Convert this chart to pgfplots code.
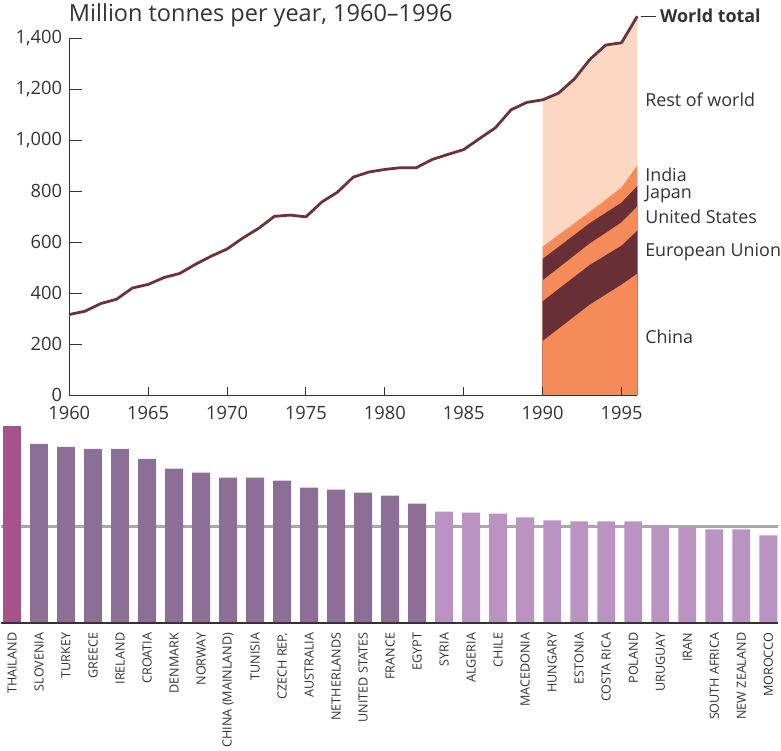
\documentclass[border=0pt]{standalone}
\usepackage{pgfplots}
\pgfplotsset{compat=1.18}
\usepackage{fontspec}
\setmainfont{Open Sans}
\definecolor{txt}{HTML}{333333}
\definecolor{peach}{HTML}{FCD8C3}
\definecolor{orng}{HTML}{F48B58}
\definecolor{dark}{HTML}{683036}
\definecolor{wline}{HTML}{6B3338}
\definecolor{thai}{HTML}{A5538A}
\definecolor{dpurp}{HTML}{8D6E97}
\definecolor{lpurp}{HTML}{BA93C2}
\definecolor{gline}{HTML}{A8A8A8}
\begin{document}
\begin{tikzpicture}
\path (0,0) rectangle (585.75pt,565.5pt);
\node[anchor=base west, inner sep=0pt, text=txt, font=\fontsize{17.7}{20}\selectfont] at (51pt,549pt) {Million tonnes per year, 1960\textendash1996};
% x = years since 1960
\begin{axis}[
  at={(51.4pt,267.75pt)}, anchor=south west,
  scale only axis, width=428.1pt, height=269pt,
  xmin=0, xmax=36, ymin=0, ymax=1400,
  axis lines*=left, axis on top, clip=false,
  axis line style={draw=txt, line width=0.8pt},
  tick style={draw=txt, line width=0.8pt},
  tick align=inside,
  xtick={0,5,10,15,20,25,30,35},
  xticklabels={1960,1965,1970,1975,1980,1985,1990,1995},
  ytick={0,200,400,600,800,1000,1200,1400},
  yticklabels={0,200,400,600,800,{1,000},{1,200},{1,400}},
  major tick length=9.75pt,
  xtick style={draw=none},
  tick label style={text=txt, font=\fontsize{13.8}{15}\selectfont, inner sep=0pt},
  yticklabel style={anchor=east, xshift=-5.2pt},
  xticklabel style={anchor=north, yshift=-8pt},
]
% world total area for 1990-1996
\addplot[draw=none, fill=peach] coordinates {(30,0) (30,1158) (31,1184) (32,1239) (33,1317) (34,1373) (35,1382) (36,1486) (36,0)};
% cumulative tops (painter's order)
\addplot[draw=none, fill=orng] coordinates {(30,0) (30,582) (33,719) (35,814) (36,901) (36,0)}; % India
\addplot[draw=none, fill=dark] coordinates {(30,0) (30,534) (33,675) (35,755) (36,820) (36,0)}; % Japan
\addplot[draw=none, fill=orng] coordinates {(30,0) (30,450) (33,595) (35,677) (36,740) (36,0)}; % United States
\addplot[draw=none, fill=dark] coordinates {(30,0) (30,368) (33,511) (35,586) (36,645) (36,0)}; % European Union
\addplot[draw=none, fill=orng] coordinates {(30,0) (30,212) (33,355) (35,433) (36,476) (36,0)}; % China
% world total line
\addplot[wline, line width=2.1pt, line join=round] coordinates {
(0,316) (1,329) (2,359) (3,376) (4,420) (5,434) (6,461) (7,477)
(8,513) (9,545) (10,573) (11,616) (12,654) (13,701) (14,706) (15,699)
(16,757) (17,796) (18,855) (19,875) (20,885) (21,892) (22,892) (23,924)
(24,944) (25,963) (26,1006) (27,1048) (28,1119) (29,1148) (30,1158)
(31,1184) (32,1239) (33,1317) (34,1373) (35,1382) (36,1486)};
% x tick marks (short, inside)
\draw[txt, line width=0.8pt] (axis cs:0,0) -- ++(0,6pt);
\draw[txt, line width=0.8pt] (axis cs:5,0) -- ++(0,6pt);
\draw[txt, line width=0.8pt] (axis cs:10,0) -- ++(0,6pt);
\draw[txt, line width=0.8pt] (axis cs:15,0) -- ++(0,6pt);
\draw[txt, line width=0.8pt] (axis cs:20,0) -- ++(0,6pt);
\draw[txt, line width=0.8pt] (axis cs:25,0) -- ++(0,6pt);
\draw[txt, line width=0.8pt] (axis cs:30,0) -- ++(0,6pt);
\draw[txt, line width=0.8pt] (axis cs:35,0) -- ++(0,6pt);
\draw[txt, line width=0.8pt] (axis cs:36,1486) ++(2.8pt,0) -- ++(11.2pt,0) node[right, inner sep=0pt, xshift=2.8pt, font=\fontsize{13.5}{15}\selectfont\bfseries, text=txt] {World total};
\node[anchor=west, inner sep=0pt, xshift=5.8pt, text=txt, font=\fontsize{13.5}{15}\selectfont] at (axis cs:36,1158) {Rest of world};
\node[anchor=west, inner sep=0pt, xshift=5.8pt, text=txt, font=\fontsize{13.5}{15}\selectfont] at (axis cs:36,866) {India};
\node[anchor=west, inner sep=0pt, xshift=5.8pt, text=txt, font=\fontsize{13.5}{15}\selectfont] at (axis cs:36,788) {Japan};
\node[anchor=west, inner sep=0pt, xshift=5.8pt, text=txt, font=\fontsize{13.5}{15}\selectfont] at (axis cs:36,698) {United States};
\node[anchor=west, inner sep=0pt, xshift=5.8pt, text=txt, font=\fontsize{13.5}{15}\selectfont] at (axis cs:36,562) {European Union};
\node[anchor=west, inner sep=0pt, xshift=5.8pt, text=txt, font=\fontsize{13.5}{15}\selectfont] at (axis cs:36,230) {China};
\end{axis}
\begin{axis}[
  at={(0pt,96pt)}, anchor=south west,
  scale only axis, width=585.75pt, height=150pt,
  xmin=-0.405, xmax=28.37, ymin=0, ymax=200,
  axis line style={draw=none}, ytick=\empty,
  xtick={0,...,28}, major tick length=0pt,
  xticklabels={THAILAND,SLOVENIA,TURKEY,GREECE,IRELAND,CROATIA,DENMARK,NORWAY,CHINA (MAINLAND),TUNISIA,CZECH REP.,AUSTRALIA,NETHERLANDS,UNITED STATES,FRANCE,EGYPT,SYRIA,ALGERIA,CHILE,MACEDONIA,HUNGARY,ESTONIA,COSTA RICA,POLAND,URUGUAY,IRAN,SOUTH AFRICA,NEW ZEALAND,MOROCCO},
  xticklabel style={rotate=90, anchor=east, inner sep=0pt, xshift=-7.2pt, text=txt, font=\fontsize{9.5}{11}\selectfont},
  ybar, bar width=13.5pt, bar shift=0pt, clip=false,
]
\addplot[sharp plot, draw=gline, line width=1.6pt, forget plot] coordinates {(-0.405,97) (28.37,97)};
\addplot[fill=thai, draw=none] coordinates {(0,198)};
\addplot[fill=dpurp, draw=none] coordinates {(1,180) (2,177) (3,175) (4,175) (5,165) (6,155) (7,151) (8,146) (9,146) (10,143) (11,136) (12,134) (13,131) (14,128) (15,120)};
\addplot[fill=lpurp, draw=none] coordinates {(16,112) (17,111) (18,110) (19,106) (20,103) (21,102) (22,102) (23,102) (24,98) (25,96) (26,94) (27,94) (28,88)};
\addplot[sharp plot, draw=txt, line width=0.8pt, forget plot] coordinates {(-0.405,0) (28.37,0)};
\end{axis}
\end{tikzpicture}
\end{document}
